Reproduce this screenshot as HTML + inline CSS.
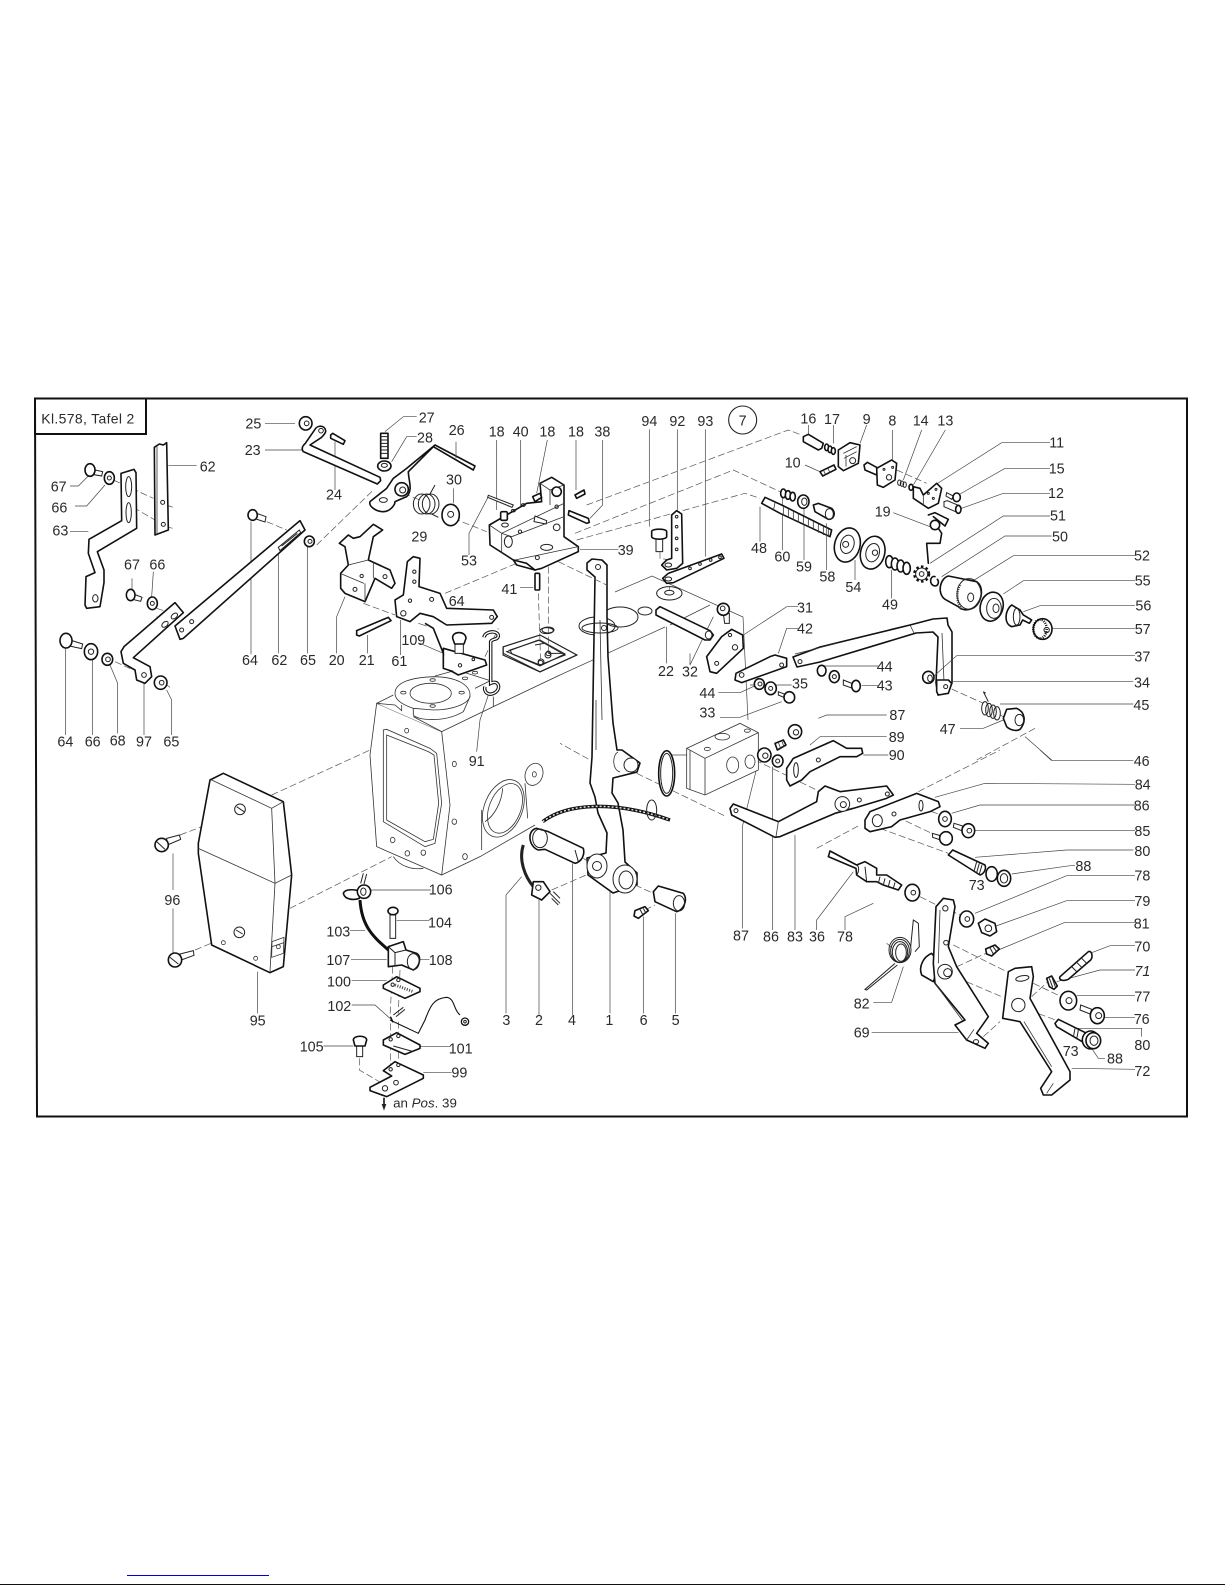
<!DOCTYPE html>
<html><head><meta charset="utf-8"><style>
html,body{margin:0;padding:0;background:#fff;width:1225px;height:1585px;overflow:hidden}
svg{position:absolute;left:0;top:0}
svg *{vector-effect:non-scaling-stroke}
.o{fill:#fff;stroke:#111;stroke-width:1.6;stroke-linejoin:round}
.n{fill:none;stroke:#111;stroke-width:1.6;stroke-linejoin:round;stroke-linecap:round}
.m{fill:#fff;stroke:#222;stroke-width:1}
.b{fill:none;stroke:#222;stroke-width:1}
.t{fill:#fff;stroke:#333;stroke-width:.8}
.u{fill:none;stroke:#333;stroke-width:.8}
.l{fill:none;stroke:#444;stroke-width:.7}
.d{fill:none;stroke:#555;stroke-width:.7;stroke-dasharray:7 3}
.k{fill:#222;stroke:none}
text{font-family:"Liberation Sans",sans-serif;font-size:43px;fill:#2a2a2a;text-anchor:middle}
</style></head><body>
<svg width="1225" height="1585" viewBox="0 0 1225 1585" xmlns="http://www.w3.org/2000/svg">
<rect width="1225" height="1585" fill="#fff"/>
<rect x="127" y="1575" width="142" height="1" fill="#0000e0"/>
<rect x="0" y="1584" width="1225" height="1" fill="#111"/>
<!-- frame -->
<path d="M35,398.500H1187V1116.500H37Z" fill="none" stroke="#111" stroke-width="2"/>
<path d="M35,398.500V434H146V398.500" fill="none" stroke="#111" stroke-width="2"/>

<!-- BODY (lines behind) -->
<g>
<path class="l" d="M615,592L652,576L743,617L748,720"/>
<path class="l" d="M560,675L665,627M670,625L710,605"/>
<path class="d" d="M495,707L590,760"/>
</g>
<g transform="translate(360,640) scale(.33333)">
<path class="t" d="M245,275L400,200L600,105L600,520L525,555L360,650L245,705L270,495Z" style="stroke:none"/>
<path class="u" d="M245,275L400,200L600,105M245,705L360,650L525,555M400,170V200"/>
<path class="t" d="M50,190L30,345L50,620L245,705L270,495L245,275Z"/>
<path class="u" d="M70,270V545L195,620L225,610L245,490L230,340L210,325L80,268Z"/>
<path class="u" d="M80,285V540L195,605L220,598L236,490L222,345L205,335Z"/>
<path class="u" d="M100,650C120,680 160,690 190,685"/>
<path class="t" d="M50,190L100,165L160,205L245,275L50,190Z" style="stroke:none"/>
<path class="u" d="M50,190L100,165M50,190L105,195L125,212V195M160,205V225M245,275L160,230"/>
<path class="t" d="M160,205V225C170,240 250,250 310,215L330,170L160,170Z"/>
<path class="t" d="M105,160C105,125 160,112 220,110C290,110 330,135 330,165C330,190 280,210 220,210L160,205C130,195 105,180 105,160Z"/>
<ellipse class="u" cx="212" cy="160" rx="62" ry="30"/>
<ellipse class="u" cx="218" cy="120" rx="8" ry="4"/><ellipse class="u" cx="305" cy="158" rx="8" ry="4"/><ellipse class="u" cx="218" cy="198" rx="8" ry="4"/><ellipse class="u" cx="130" cy="158" rx="8" ry="4"/><ellipse class="u" cx="315" cy="115" rx="8" ry="4"/><ellipse class="u" cx="345" cy="98" rx="8" ry="4"/>
<path class="u" d="M225,108L290,90L400,125M345,145L395,120"/>
<ellipse class="u" cx="430" cy="505" rx="57" ry="90" transform="rotate(22 430 505)"/><ellipse class="u" cx="435" cy="505" rx="47" ry="78" transform="rotate(22 435 505)"/>
<path class="u" d="M365,510V630M495,430L503,535M428,445C425,490 400,530 375,545"/>
<ellipse class="t" cx="522" cy="403" rx="26" ry="34" transform="rotate(20 522 403)"/><ellipse class="u" cx="523" cy="403" rx="6" ry="8"/>
<ellipse class="u" cx="283" cy="372" rx="6" ry="8"/><ellipse class="u" cx="283" cy="545" rx="7" ry="8"/><ellipse class="u" cx="315" cy="650" rx="7" ry="9"/><ellipse class="u" cx="98" cy="600" rx="7" ry="8"/><ellipse class="u" cx="142" cy="640" rx="7" ry="8"/><ellipse class="u" cx="190" cy="638" rx="7" ry="8"/><ellipse class="u" cx="140" cy="272" rx="6" ry="7"/>
</g>
<g>
<!-- plate on body -->
<path class="b" d="M503,647L540,635L577,655L540,672L503,655ZM510,650L540,640L565,654L540,666L512,654Z"/>
<path class="b" d="M503,655L540,672L577,655"/>
<ellipse class="b" cx="548" cy="630" rx="6" ry="3"/><circle class="b" cx="548" cy="655" r="3"/><circle class="b" cx="541" cy="662" r="3"/>
<ellipse class="b" cx="597" cy="626" rx="18" ry="9"/><ellipse class="b" cx="620" cy="617" rx="18" ry="10"/><ellipse class="b" cx="645" cy="611" rx="7" ry="4"/>
<!-- lever 1 -->
<path class="o" d="M587,563L592,559L602,560L607,565L607,617L608,657L613,723L617,750L622,750L640,763L637,772L613,778L612,793L618,803L623,830L625,862L637,873L637,885L613,893L588,875L587,858L606,853L607,833L598,813L595,797L590,783L592,757L595,577L587,570Z"/>
<path class="u" d="M600,620L602,720M596,700V750M618,752C612,755 612,770 620,772"/>
<circle class="m" cx="631" cy="765" r="7"/>
<ellipse class="m" cx="597" cy="866" rx="10" ry="12"/><circle class="b" cx="597" cy="866" r="4.500"/>
<ellipse class="m" cx="625" cy="879" rx="12" ry="14"/><ellipse class="b" cx="626" cy="880" rx="7" ry="9"/>
<circle class="b" cx="598" cy="567" r="2.500"/><circle class="b" cx="604" cy="628" r="2.500"/>
<ellipse class="b" cx="600" cy="628" rx="18" ry="5"/>
<!-- Long bar 34 -->
<path class="o" d="M793,657L820,647L910,625L933,619L947,618L948,625L952,632L952,683L948,693L938,695L936,683L938,637L933,632L916,633L820,662L797,667Z"/>
<path class="u" d="M910,625L914,633M942,633L944,682M795,654L838,643"/>
</g>

<!-- CROP 1 -->
<g transform="translate(20,390) scale(.33333)">
<path class="l" d="M735,100H825M735,180H845M445,226H530M150,288H175L205,258M165,348H200L255,285M150,425H205M693,395V793M775,485V790M862,470V790M975,620L950,680V790M1043,735V790M1142,690V795M137,770V1035M217,810V1035M270,825L293,880V1030M372,880V1035M440,900L455,930V1035M336,565V600M400,545L395,620M945,155V300M1095,125L1150,80H1190M1115,215L1160,140H1190"/>
<path class="d" d="M280,270L400,325M340,352L405,390M438,345L460,352M440,410L458,415M740,395L800,420M890,465L1060,300M410,655L440,665M410,680L420,690M285,815L340,840M1030,640L1125,675M1150,310L1200,330M440,885L450,892"/>
<path class="o" d="M403,172L418,162L430,165L440,158L445,420L405,435Z"/><path class="u" d="M411,170V432"/>
<circle class="m" cx="428" cy="337" r="6"/><circle class="m" cx="430" cy="403" r="6"/>
<path class="o" d="M303,250L342,238L348,248L350,415L232,485L252,540L252,578L240,650L200,655L195,645L198,560L225,548L205,490L207,448L305,392Z"/>
<ellipse class="m" cx="326" cy="290" rx="9" ry="30"/><ellipse class="m" cx="326" cy="368" rx="8" ry="30"/><ellipse class="m" cx="226" cy="625" rx="8" ry="11"/>
<path class="m" d="M225,240L248,245L245,258L222,254Z"/><ellipse class="o" cx="210" cy="240" rx="15" ry="19"/>
<ellipse class="o" cx="268" cy="264" rx="15" ry="19"/><circle class="b" cx="268" cy="264" r="6"/>
<path class="o" d="M850,185C842,175 850,165 856,160L885,118C892,105 915,105 917,122C918,130 910,135 905,142L870,165L1080,262L1082,272L1072,282L862,190Z"/>
<circle class="b" cx="903" cy="122" r="7"/>
<ellipse class="o" cx="857" cy="100" rx="19" ry="20"/><circle class="b" cx="860" cy="100" r="7"/>
<path class="o" d="M932,135L938,130L975,152L970,163L932,145Z"/>
<rect class="o" x="1082" y="130" width="22" height="75"/>
<path class="b" d="M1082,140H1104M1082,150H1104M1082,160H1104M1082,170H1104M1082,180H1104M1082,190H1104"/>
<ellipse class="o" cx="1093" cy="228" rx="20" ry="15"/><ellipse class="b" cx="1093" cy="226" rx="9" ry="6"/>
<path class="o" d="M1050,335C1045,350 1070,365 1090,365C1110,365 1125,345 1125,335L1160,320C1180,300 1165,270 1165,245L1240,170L1360,240L1365,228L1245,165L1160,235L1120,265L1100,295Z"/>
<circle class="o" cx="1145" cy="298" r="20"/><circle class="b" cx="1148" cy="300" r="9"/><ellipse class="b" cx="1090" cy="330" rx="12" ry="7"/>
<path class="o" d="M958,460L985,435L1000,445L1020,440L1060,403L1088,420L1060,440L1045,510L1110,540L1125,580L1115,595L1065,565L1035,635L975,610L962,595L962,550L985,525L975,470Z"/>
<path class="u" d="M985,525L1045,510M1060,515L1060,565M1035,580V635M965,552L1032,580"/>
<circle class="b" cx="1005" cy="598" r="6"/><circle class="b" cx="1095" cy="560" r="6"/><circle class="b" cx="1025" cy="558" r="5"/>
<path class="o" d="M1125,630L1150,615L1162,515L1180,500L1200,505L1197,590L1260,610L1280,655L1420,660L1432,680L1415,700L1280,705L1240,680L1200,670L1170,695L1130,680Z"/>
<circle class="b" cx="1150" cy="670" r="8"/><circle class="b" cx="1183" cy="545" r="5"/><circle class="b" cx="1183" cy="575" r="5"/><circle class="b" cx="1170" cy="632" r="5"/><circle class="b" cx="1235" cy="628" r="6"/><circle class="b" cx="1415" cy="682" r="6"/>
<path class="o" d="M1010,722L1105,682L1113,692L1018,738L1010,735Z"/>
<path class="o" d="M465,708L840,392L855,420L490,745L480,748Z"/>
<path class="m" d="M775,472L838,420L842,428L780,482Z"/><path class="b" d="M785,468L832,430"/>
<circle class="b" cx="485" cy="720" r="6"/><circle class="b" cx="515" cy="695" r="6"/>
<path class="m" d="M705,368L738,380L735,396L702,385Z"/><ellipse class="o" cx="698" cy="375" rx="14" ry="16"/>
<ellipse class="o" cx="868" cy="454" rx="15" ry="16"/><circle class="b" cx="870" cy="454" r="6"/>
<path class="o" d="M312,770L465,638L490,668L340,803L390,830L395,860L375,880L350,870L345,840L310,820L303,785Z"/>
<ellipse class="m" cx="435" cy="703" rx="11" ry="7" transform="rotate(-40 435 703)"/><ellipse class="m" cx="463" cy="678" rx="11" ry="7" transform="rotate(-40 463 678)"/><circle class="b" cx="372" cy="855" r="7"/>
<path class="m" d="M340,612L366,622L362,634L338,628Z"/><ellipse class="o" cx="332" cy="615" rx="13" ry="17"/>
<ellipse class="o" cx="397" cy="640" rx="15" ry="19"/><circle class="b" cx="397" cy="640" r="6"/>
<path class="m" d="M150,750L188,762L185,776L148,768Z"/><ellipse class="o" cx="138" cy="752" rx="18" ry="22"/>
<ellipse class="o" cx="213" cy="785" rx="20" ry="24"/><circle class="b" cx="213" cy="785" r="8"/>
<ellipse class="o" cx="262" cy="808" rx="16" ry="18"/><circle class="b" cx="264" cy="808" r="7"/>
<ellipse class="o" cx="422" cy="878" rx="19" ry="20"/><circle class="b" cx="425" cy="878" r="7"/>
<text x="204" y="100" style="font-size:42px;letter-spacing:1px">Kl.578, Tafel  2</text>
<text x="700" y="116">25</text><text x="698" y="195">23</text><text x="563" y="244">62</text><text x="116" y="304">67</text><text x="118" y="368">66</text><text x="121" y="436">63</text><text x="942" y="328">24</text><text x="690" y="825">64</text><text x="778" y="825">62</text><text x="864" y="825">65</text><text x="950" y="825">20</text><text x="1040" y="825">21</text><text x="1138" y="828">61</text><text x="336" y="538">67</text><text x="412" y="538">66</text><text x="136" y="1069">64</text><text x="218" y="1069">66</text><text x="293" y="1067">68</text><text x="372" y="1069">97</text><text x="454" y="1069">65</text><text x="1180" y="765">109</text>
</g>

<!-- CROP 2 -->
<g transform="translate(420,390) scale(.33333)">
<path class="l" d="M108,155V205M100,295V340M230,150V360M302,150V415M382,150L350,310M468,150V300M548,150V345L510,385M688,118V410M772,118V360M856,118V500M147,495V430L205,320M480,478H595M300,592H340M1020,350V455M1087,320V480M1152,350V510M740,710V820M810,790V825L880,680M990,885H1110M900,982H960L1085,935M895,908H960L1010,885M1070,885H1115M740,1095H800M970,735L1100,650H1135M1075,790L1100,715H1135"/>
<path class="l" d="M-5,700L40,715M0,760L70,790M170,1085L180,990L205,915"/>
<path class="d" d="M500,345L1105,120L1145,135M465,430L940,240L1080,305M470,450L975,310L1020,325M75,610L290,520M415,515L560,585M100,385L200,425M355,610L362,815M385,530L385,790M720,485V505L750,510M748,590V600M195,800L235,715"/>
<path class="o" d="M208,405L320,340L365,335L360,280L395,262L432,285L432,440L475,470L475,485L365,535L345,540L280,510L210,465Z"/>
<path class="u" d="M208,405L245,430L432,340M245,430V490M245,430L275,440L432,380M285,510L475,470M360,280L390,300L432,285M390,300V345"/>
<path class="o" d="M280,510L290,525L345,540L320,520Z"/>
<circle class="o" cx="410" cy="305" r="14"/><ellipse class="m" cx="265" cy="455" rx="12" ry="17"/><circle class="b" cx="410" cy="412" r="10"/><circle class="b" cx="300" cy="425" r="5"/><circle class="b" cx="410" cy="350" r="5"/><circle class="b" cx="352" cy="503" r="6"/><ellipse class="b" cx="380" cy="472" rx="18" ry="9"/><ellipse class="b" cx="310" cy="345" rx="6" ry="4"/><ellipse class="b" cx="280" cy="362" rx="6" ry="4"/>
<rect class="o" x="242" y="365" width="20" height="26" rx="4"/><ellipse class="b" cx="255" cy="405" rx="10" ry="6"/>
<path class="o" d="M338,320L360,310L365,322L345,335Z"/><path class="o" d="M465,315L492,300L495,312L470,325Z"/>
<path class="o" d="M447,362L505,385L508,397L500,400L445,375Z"/>
<path class="m" d="M345,378L380,392L378,402L342,395Z"/>
<path class="m" d="M205,316L280,345L276,352L203,322Z"/>
<rect class="o" x="345" y="550" width="14" height="50" rx="3"/>
<path class="b" d="M250,770L360,735L470,795L360,845L250,790Z"/>
<path class="b" d="M260,785L355,750L435,795L360,825ZM345,765L372,760M385,790H425"/>
<ellipse class="b" cx="380" cy="722" rx="20" ry="9"/><circle class="b" cx="385" cy="790" r="7"/><circle class="b" cx="362" cy="818" r="7"/>
<path class="o" d="M755,375L770,362L785,372L788,520L770,535L740,540L725,525L740,510L755,505Z"/>
<circle class="b" cx="770" cy="380" r="4"/><circle class="b" cx="770" cy="410" r="4"/><circle class="b" cx="770" cy="445" r="4"/><circle class="b" cx="770" cy="478" r="4"/><ellipse class="b" cx="745" cy="525" rx="10" ry="6"/>
<path class="o" d="M728,565L745,550L905,492L912,505L760,578L740,580Z"/>
<circle class="b" cx="810" cy="535" r="4"/><circle class="b" cx="840" cy="522" r="4"/><circle class="b" cx="872" cy="510" r="4"/><circle class="b" cx="900" cy="502" r="4"/><ellipse class="b" cx="745" cy="567" rx="10" ry="6"/>
<ellipse class="b" cx="748" cy="610" rx="38" ry="20"/><ellipse class="b" cx="748" cy="608" rx="14" ry="7"/>
<path class="m" d="M708,445H728V485H708Z"/><path class="o" d="M695,425C695,415 740,415 740,425V440C740,450 695,450 695,440Z"/>
<path class="o" d="M708,660L720,650L870,722L880,735L870,750L855,750L708,675Z"/><ellipse class="b" cx="866" cy="735" rx="10" ry="12"/>
<path class="m" d="M910,670H928V700H914Z"/><ellipse class="o" cx="910" cy="658" rx="18" ry="18"/><circle class="b" cx="908" cy="655" r="7"/>
<path class="o" d="M860,800L905,740L935,718L968,735L970,775L890,850L870,845Z"/><circle class="b" cx="890" cy="820" r="6"/><circle class="b" cx="945" cy="772" r="8"/><circle class="b" cx="930" cy="735" r="5"/>
<path class="o" d="M948,850L1050,800L1065,795L1100,805L1100,830L965,878L945,870Z"/><circle class="b" cx="965" cy="855" r="7"/><circle class="b" cx="1085" cy="825" r="6"/>
<circle class="b" cx="1140" cy="815" r="6"/>
<ellipse class="o" cx="1018" cy="882" rx="15" ry="16"/><circle class="b" cx="1020" cy="882" r="6"/>
<ellipse class="o" cx="1052" cy="895" rx="17" ry="19"/><circle class="b" cx="1052" cy="895" r="6"/>
<path class="m" d="M1075,905L1100,915L1098,925L1075,915Z"/><ellipse class="o" cx="1108" cy="922" rx="16" ry="17"/>
<path fill="none" stroke="#111" stroke-width="3.500" d="M192,742C195,722 235,720 235,738C232,752 215,745 212,755L212,880C235,868 245,895 225,908C205,920 190,905 195,890"/>
<path fill="none" stroke="#fff" stroke-width="1.400" d="M192,742C195,722 235,720 235,738C232,752 215,745 212,755L212,880C235,868 245,895 225,908C205,920 190,905 195,890"/>
<path class="o" d="M70,775L195,810L200,825L115,855L70,830Z"/><path class="o" d="M15,700L40,715L70,790V835L100,845"/><circle class="b" cx="120" cy="826" r="5"/><circle class="b" cx="160" cy="808" r="4"/>
<path class="m" d="M105,755H130V790H105Z"/><path class="o" d="M98,745C95,722 138,722 138,745L132,762H104Z"/>
<circle class="m" cx="968" cy="90" r="42" style="stroke-width:1.100"/>
<text x="20" y="98">27</text><text x="15" y="158">28</text><text x="110" y="135">26</text><text x="102" y="283">30</text><text x="230" y="140">18</text><text x="302" y="140">40</text><text x="382" y="140">18</text><text x="468" y="140">18</text><text x="547" y="140">38</text><text x="688" y="108">94</text><text x="772" y="108">92</text><text x="856" y="108">93</text><text x="968" y="106">7</text><text x="1165" y="100">16</text><text x="1118" y="232">10</text><text x="147" y="527">53</text><text x="617" y="495">39</text><text x="268" y="612">41</text><text x="1017" y="489">48</text><text x="1087" y="514">60</text><text x="1152" y="544">59</text><text x="110" y="648">64</text><text x="738" y="858">22</text><text x="810" y="860">32</text><text x="1155" y="668">31</text><text x="1155" y="730">42</text><text x="1140" y="896">35</text><text x="862" y="924">44</text><text x="862" y="982">33</text><text x="-2" y="455">29</text>
<!-- spring 29 / washer 30 -->
<g><ellipse class="b" cx="5" cy="342" rx="25" ry="30"/><ellipse class="b" cx="20" cy="342" rx="25" ry="30"/><ellipse class="b" cx="32" cy="342" rx="25" ry="30"/><path class="b" d="M30,312L45,285M35,372L55,382"/></g>
<ellipse class="o" cx="92" cy="375" rx="26" ry="32"/><circle class="b" cx="92" cy="373" r="9"/>
</g>

<!-- upper-right small parts -->
<g transform="translate(760,400) scale(.33333)">
<path class="l" d="M135,195L180,215M145,75V105M220,75V130M320,75L300,130"/>
<path class="o" d="M130,110L145,103L190,130L185,145L175,150L130,125Z"/>
<ellipse class="o" cx="200" cy="142" rx="6" ry="10"/><ellipse class="o" cx="210" cy="148" rx="6" ry="10"/><ellipse class="o" cx="220" cy="153" rx="6" ry="10"/>
<path class="o" d="M235,150L270,128L300,135L295,190L250,212L235,200Z"/><path class="u" d="M250,160L290,140M252,175L290,155M258,200V165"/><circle class="b" cx="278" cy="182" r="9"/>
<path class="o" d="M180,215L222,195L228,208L188,228Z"/><path class="u" d="M190,210L197,224M203,204L210,218"/>
<path class="o" d="M312,195L322,187L355,205L350,225L315,210Z"/>
<path class="o" d="M350,205L395,180L410,190L405,240L370,262L352,255Z"/><circle class="b" cx="387" cy="232" r="8"/><circle class="b" cx="372" cy="208" r="3"/><circle class="b" cx="398" cy="202" r="3"/>
<path class="o" d="M5,310L15,292L65,315L215,390L210,410L60,340Z"/>
<path class="u" d="M45,308L40,332M70,320V345M85,328V352M100,335V360M115,342V368M130,350V375M145,358V382M160,365V390M175,372V398M190,380V405M205,388V410"/>
<ellipse class="o" cx="70" cy="280" rx="8" ry="13"/><ellipse class="o" cx="84" cy="285" rx="8" ry="13"/><ellipse class="o" cx="98" cy="290" rx="8" ry="13"/>
<ellipse class="o" cx="130" cy="305" rx="17" ry="20"/><ellipse class="b" cx="133" cy="305" rx="8" ry="11"/>
<path class="o" d="M160,315L175,310L215,325C230,340 220,360 205,358L165,335Z"/><ellipse class="b" cx="208" cy="342" rx="12" ry="16"/>
</g>

<!-- CROP 3 -->
<g transform="translate(820,390) scale(.33333)">
<path class="l" d="M345,285L545,158H690M415,315L555,235H690M425,355L550,310H690M330,520L550,378H690M365,560L555,438H695M455,575L580,497H945M550,612L610,572H945M610,665L660,647H945M690,716H945M340,860L410,797H945M395,875H940M540,942H940M420,1015H490L550,990M615,1040L695,1110M217,120V210M305,120L250,270M376,120L280,285M220,368L330,410M175,828H10M175,886H125M200,975H20L-5,985M200,1040H0L-30,1065M105,510V570M215,540V625M20,400V540M5,1100H-40"/>
<path class="d" d="M230,240L320,280M395,897L490,940M645,1015L470,1110M540,975L560,985"/>
<g><ellipse class="b" cx="238" cy="278" rx="5" ry="8"/><ellipse class="b" cx="246" cy="281" rx="5" ry="8"/><ellipse class="b" cx="254" cy="284" rx="5" ry="8"/></g><ellipse class="n" cx="273" cy="292" rx="6" ry="9"/>
<path class="o" d="M280,290L300,295L310,315L350,280L365,295L355,340L325,355L280,325Z"/><path class="u" d="M310,315V345"/><circle class="b" cx="325" cy="310" r="3"/><circle class="b" cx="348" cy="298" r="3"/><circle class="b" cx="340" cy="325" r="3"/>
<path class="m" d="M380,308L400,318L395,328L378,318Z"/><ellipse class="o" cx="410" cy="322" rx="11" ry="13"/>
<path class="m" d="M372,335L382,332L420,348L414,368L372,350Z"/><ellipse class="o" cx="415" cy="358" rx="8" ry="12"/>
<path class="n" d="M325,375L345,368L385,388L375,408L340,380"/><circle class="n" cx="345" cy="405" r="14"/><path class="n" d="M355,415L365,430L360,460L320,460L325,520"/>
<ellipse class="o" cx="82" cy="465" rx="38" ry="52" transform="rotate(15 82 465)"/><ellipse class="b" cx="82" cy="463" rx="20" ry="28" transform="rotate(15 82 463)"/><circle class="b" cx="77" cy="463" r="9"/>
<ellipse class="o" cx="158" cy="488" rx="36" ry="50" transform="rotate(15 158 488)"/><ellipse class="b" cx="158" cy="488" rx="20" ry="28" transform="rotate(15 158 488)"/><circle class="b" cx="165" cy="488" r="8"/>
<g><ellipse class="o" cx="208" cy="515" rx="11" ry="18"/><ellipse class="o" cx="225" cy="522" rx="11" ry="18"/><ellipse class="o" cx="242" cy="528" rx="11" ry="18"/><ellipse class="o" cx="260" cy="535" rx="11" ry="18"/></g>
<circle cx="305" cy="552" r="22" fill="none" stroke="#111" stroke-width="2.500" stroke-dasharray="2.500 2.300"/><circle class="m" cx="305" cy="552" r="18"/><circle class="b" cx="305" cy="552" r="7"/>
<path class="n" d="M345,560C330,555 325,585 345,588C355,588 358,575 352,568"/>
<path class="o" d="M385,558L470,575C490,590 490,625 465,650C445,665 425,660 415,650L375,628C350,610 360,565 385,558Z"/>
<ellipse class="b" cx="447" cy="612" rx="36" ry="46"/><ellipse class="b" cx="452" cy="622" rx="9" ry="13"/>
<path fill="none" stroke="#333" stroke-width="2.500" stroke-dasharray="1 1.200" d="M420,585C408,605 410,640 425,658"/>
<ellipse class="o" cx="515" cy="650" rx="34" ry="44" transform="rotate(15 515 650)"/><ellipse class="b" cx="522" cy="655" rx="22" ry="30"/><ellipse class="b" cx="528" cy="655" rx="9" ry="13"/>
<path class="o" d="M575,645C555,660 550,700 575,710L600,705L608,690L628,700L635,690L610,675L600,660Z"/><ellipse class="b" cx="590" cy="680" rx="10" ry="25"/>
<ellipse class="o" cx="668" cy="717" rx="28" ry="31"/><ellipse fill="none" stroke="#111" stroke-width="2.500" stroke-dasharray="1 1.200" cx="660" cy="717" rx="20" ry="28"/><circle class="b" cx="680" cy="720" r="8"/>
<ellipse class="o" cx="325" cy="862" rx="17" ry="18"/><ellipse class="b" cx="330" cy="865" rx="7" ry="10"/>
<path class="o" d="M350,870L385,870L395,880L385,910L355,915L350,905Z"/><circle class="b" cx="377" cy="890" r="6"/>
<g><ellipse class="b" cx="495" cy="955" rx="10" ry="20"/><ellipse class="b" cx="507" cy="960" rx="10" ry="20"/><ellipse class="b" cx="519" cy="965" rx="10" ry="20"/><ellipse class="b" cx="531" cy="970" rx="10" ry="20"/><path class="b" d="M490,905L505,935M490,905L497,910"/></g>
<path class="o" d="M560,958L590,955C615,965 620,995 600,1018C590,1025 570,1020 560,1010L550,985Z"/><ellipse class="b" cx="598" cy="990" rx="13" ry="17"/>
<text x="36" y="102">17</text><text x="140" y="102">9</text><text x="217" y="106">8</text><text x="302" y="106">14</text><text x="376" y="106">13</text><text x="710" y="172">11</text><text x="710" y="250">15</text><text x="708" y="324">12</text><text x="188" y="380">19</text><text x="714" y="392">51</text><text x="720" y="455">50</text><text x="966" y="512">52</text><text x="968" y="587">55</text><text x="970" y="662">56</text><text x="968" y="732">57</text><text x="22" y="575">58</text><text x="100" y="606">54</text><text x="210" y="658">49</text><text x="967" y="815">37</text><text x="966" y="892">34</text><text x="964" y="960">45</text><text x="194" y="844">44</text><text x="194" y="902">43</text><text x="232" y="990">87</text><text x="230" y="1056">89</text><text x="230" y="1110">90</text><text x="383" y="1032">47</text>
<path class="m" d="M70,870L100,882L98,895L70,885Z"/><ellipse class="o" cx="108" cy="888" rx="13" ry="17"/>
<ellipse class="o" cx="43" cy="860" rx="15" ry="18"/><circle class="b" cx="43" cy="860" r="6"/><ellipse class="o" cx="5" cy="842" rx="13" ry="16"/>
</g>

<!-- CROP 4 -->
<g transform="translate(20,750) scale(.33333)">
<path class="l" d="M459,310V420M459,475V610M713,665V790M1050,420H1232M1130,512H1228M990,542H1035M993,628H1100M1198,628H1228M995,692H1100M995,765H1065L1110,805M910,888H1000M1200,890H1292M1210,967H1295"/>
<path class="d" d="M755,135L1050,0M810,475L1115,320M480,255L650,190M525,600L645,550M1118,650L1110,800M1140,660L1135,790M1112,820V950M1135,815V935M1018,925V960L1095,1005"/>
<path class="o" d="M570,90L610,70L790,155L815,375L790,650L750,668L575,585L535,310V280Z"/>
<path class="u" d="M575,90L755,175L790,155M755,175L765,400L750,665M535,295L765,400L815,375"/>
<path class="u" d="M756,575L792,562L790,610L755,622ZM756,590L792,578"/><circle class="u" cx="775" cy="590" r="6"/>
<circle class="m" cx="660" cy="178" r="16"/><path class="b" d="M650,170L672,185"/><circle class="m" cx="658" cy="547" r="16"/><path class="b" d="M648,540L668,552"/>
<circle class="u" cx="610" cy="578" r="6"/><circle class="u" cx="707" cy="625" r="6"/>
<path class="m" d="M440,265L478,255L482,268L442,285Z"/><ellipse class="o" cx="425" cy="285" rx="20" ry="20"/><path class="b" d="M410,275L435,298"/>
<path class="m" d="M480,612L520,602L522,616L484,630Z"/><ellipse class="o" cx="465" cy="630" rx="20" ry="21"/><path class="b" d="M450,622L475,642"/>
<path class="b" d="M1030,370L1022,400M1040,372L1032,402"/>
<path fill="none" stroke="#111" stroke-width="3" d="M1020,450C1025,530 1060,560 1105,600"/>
<path class="o" d="M970,430C975,415 1010,418 1020,425L1018,445C1005,450 975,452 970,430Z"/><ellipse class="o" cx="1032" cy="425" rx="20" ry="20"/><ellipse class="b" cx="1030" cy="425" rx="8" ry="11"/>
<rect class="m" x="1110" y="495" width="17" height="70"/><ellipse class="o" cx="1119" cy="483" rx="15" ry="11"/>
<path class="o" d="M1105,590L1150,575L1158,600L1190,610C1205,620 1200,650 1180,660L1145,645L1105,650Z"/><ellipse class="b" cx="1180" cy="635" rx="18" ry="24"/><path class="b" d="M1105,590L1125,608L1158,600M1125,608V650"/>
<path class="o" d="M1090,705L1130,680L1200,715V725L1155,745L1090,715Z"/><circle class="b" cx="1118" cy="704" r="5"/><circle class="b" cx="1135" cy="690" r="5"/><path fill="none" stroke="#444" stroke-width="3" stroke-dasharray="1 1.500" d="M1125,705L1180,725"/>
<path fill="none" stroke="#111" stroke-width="1.100" d="M1110,810L1195,850L1215,810C1230,770 1240,745 1280,742C1305,745 1300,780 1320,795"/>
<circle class="n" cx="1335" cy="815" r="11" style="stroke-width:1.300"/><circle class="b" cx="1335" cy="815" r="4"/>
<path class="b" d="M1120,795L1150,772M1128,800L1155,778"/><path class="n" d="M1112,802L1118,815"/>
<path class="o" d="M1090,870L1130,848L1200,885V895L1155,913L1090,885Z"/><circle class="b" cx="1112" cy="868" r="5"/><circle class="b" cx="1135" cy="858" r="5"/><path class="b" d="M1120,888L1180,905"/>
<rect class="m" x="1010" y="885" width="18" height="35"/><path class="o" d="M1000,870C1000,855 1040,855 1040,870L1035,888H1005Z"/>
<path class="o" d="M1090,962L1125,935L1210,975V985L1100,1040L1050,1022V1012L1115,978Z"/><circle class="b" cx="1112" cy="958" r="5"/><circle class="b" cx="1135" cy="945" r="5"/><circle class="b" cx="1095" cy="1015" r="8"/><circle class="b" cx="1128" cy="998" r="7"/>
<path class="n" d="M1092,1045V1070"/><path class="k" d="M1085,1062H1099L1092,1082Z"/>
<text x="1262" y="434">106</text><text x="1260" y="532">104</text><text x="955" y="560">103</text><text x="955" y="645">107</text><text x="1262" y="645">108</text><text x="957" y="710">100</text><text x="958" y="783">102</text><text x="875" y="905">105</text><text x="1322" y="910">101</text><text x="1318" y="982">99</text><text x="1215" y="1072" style="font-size:40px">an <tspan font-style="italic">Pos</tspan>. 39</text><text x="1370" y="48">91</text><text x="457" y="465">96</text><text x="713" y="826">95</text>
</g>

<!-- CROP 5 -->
<g transform="translate(480,750) scale(.33333)">
<path class="l" d="M177,450V795M278,340V795M390,425V790M490,500V790M586,490V790M787,230L835,35M787,230V535M878,50V540M945,255V540M1120,365L1010,510V540M1180,460L1095,500V540M125,380L78,435V790"/>
<path class="d" d="M470,70L735,198M825,30L1020,125M215,420L330,370M465,405L520,430M495,480L525,465M310,325L325,335M1010,295L1140,225"/>
<path fill="none" stroke="#111" stroke-width="3.500" d="M188,215C260,160 400,150 570,210"/>
<path fill="none" stroke="#ddd" stroke-width="1.500" stroke-dasharray="2 2" d="M188,215C260,160 400,150 570,210"/>
<ellipse class="b" cx="515" cy="180" rx="15" ry="30"/>
<path class="o" d="M170,235L205,245L310,295C315,315 305,335 285,340L195,298L175,300C145,290 140,240 170,235Z"/><ellipse class="b" cx="180" cy="265" rx="22" ry="28"/><path class="b" d="M285,300L295,335"/>
<path fill="none" stroke="#222" stroke-width="3" d="M130,285C115,330 135,380 160,410"/>
<path class="o" d="M160,395L190,395L210,425L185,450L155,435Z"/><circle class="b" cx="175" cy="413" r="8"/>
<path class="b" d="M210,430L240,460M215,445L235,465M220,425L240,445"/>
<ellipse class="o" cx="560" cy="70" rx="24" ry="68"/><ellipse class="b" cx="560" cy="70" rx="18" ry="60"/>
<path class="o" d="M520,425L535,408L610,430C625,450 610,480 590,485L525,455Z"/><ellipse class="b" cx="597" cy="460" rx="17" ry="23"/>
<path class="o" d="M465,482L495,470L505,482L475,505L462,498Z"/><path class="b" d="M480,478L490,497M490,475L498,490"/>
<text x="79" y="825">3</text><text x="177" y="825">2</text><text x="276" y="825">4</text><text x="388" y="825">1</text><text x="491" y="825">6</text><text x="587" y="825">5</text><text x="783" y="572">87</text><text x="873" y="575">86</text><text x="945" y="575">83</text><text x="1011" y="575">36</text><text x="1095" y="575">78</text>
</g>

<!-- BLOCK / 83 / 90 -->
<g transform="translate(670,700) scale(.33333)">
<path class="t" d="M50,145L210,70L265,98V210L105,285L50,265Z"/>
<path class="u" d="M50,145L105,175L265,98M105,175V285M60,150V270"/>
<ellipse class="u" cx="157" cy="110" rx="22" ry="10"/><ellipse class="u" cx="112" cy="147" rx="9" ry="5"/><ellipse class="u" cx="232" cy="92" rx="9" ry="5"/>
<ellipse class="u" cx="188" cy="195" rx="18" ry="24"/><ellipse class="u" cx="240" cy="185" rx="15" ry="20"/>
<path class="o" d="M180,325L190,312L325,365L440,305L445,275L465,258L510,275L650,258L670,285L650,295L550,325L495,340L330,410L315,412L185,345Z"/>
<path class="u" d="M325,365L318,410"/><circle class="m" cx="517" cy="312" r="22"/><circle class="b" cx="520" cy="314" r="9"/><circle class="b" cx="568" cy="300" r="6"/><circle class="b" cx="198" cy="332" r="6"/><circle class="b" cx="652" cy="282" r="6"/>
<path class="o" d="M350,205L370,175L490,122L530,145L575,145L578,160L560,170L510,170L420,215L395,240L360,258L350,240Z"/>
<ellipse class="m" cx="378" cy="210" rx="7" ry="22"/><circle class="b" cx="445" cy="180" r="6"/>
<ellipse class="o" cx="375" cy="95" rx="20" ry="21"/><circle class="b" cx="378" cy="97" r="8"/>
<path class="o" d="M315,130L340,120L348,135L322,150Z"/><path class="u" d="M325,127L332,145M335,122L342,140"/>
<ellipse class="o" cx="283" cy="165" rx="20" ry="21"/><circle class="b" cx="286" cy="167" r="8"/>
<ellipse class="o" cx="323" cy="183" rx="16" ry="18"/><circle class="b" cx="323" cy="183" r="6"/>
</g>

<!-- CROP 6 -->
<g transform="translate(820,750) scale(.33333)">
<path class="l" d="M345,142L495,100L945,103M395,190L480,165L945,165M465,242H945M465,322L740,300H940M575,372L750,347H765M465,490L740,377H945M528,528L740,452H945M535,600L735,517H945M810,610L870,587H945M710,695L840,660H945M770,737H945M850,802H945M770,835H965V860M815,895L835,925H855M755,955L945,958M155,847H415M160,757H215L250,650M695,32H940M660,0L695,32M130,15H205"/>
<path class="d" d="M295,125L540,0M400,585L560,665M385,672L545,740M600,770L720,815M640,700L720,738M635,740L700,680M410,650L520,600M490,860L540,815M300,440L350,465M390,480L430,500M310,630L340,650M200,580L225,600M180,235L385,310M230,200L335,250M305,175L365,195"/>
<path class="o" d="M135,210L150,185L290,130L355,155L360,170L330,185L240,210L215,230L150,245L135,235Z"/><ellipse class="m" cx="172" cy="212" rx="15" ry="18"/><circle class="b" cx="222" cy="192" r="6"/><ellipse class="m" cx="303" cy="167" rx="6" ry="16"/>
<ellipse class="o" cx="375" cy="207" rx="19" ry="23"/><circle class="b" cx="375" cy="207" r="7"/>
<path class="m" d="M402,220L428,228L425,242L400,232Z"/><ellipse class="o" cx="445" cy="242" rx="19" ry="21"/><circle class="b" cx="448" cy="242" r="7"/>
<path class="m" d="M337,250L365,258L362,270L338,262Z"/><ellipse class="o" cx="378" cy="265" rx="19" ry="20"/>
<path class="o" d="M385,315L398,300L495,345C500,360 490,372 480,375Z"/><path class="b" d="M470,335L462,365M478,340L470,368M486,345L478,372"/>
<ellipse class="n" cx="515" cy="372" rx="17" ry="22"/><ellipse class="n" cx="552" cy="385" rx="20" ry="24"/><ellipse class="b" cx="552" cy="385" rx="11" ry="14"/>
<path class="o" d="M30,303L110,345L135,335L170,355L170,375L200,375L245,405L235,420L190,405L170,395L140,395L110,375L108,355L25,320Z"/><path class="b" d="M110,345C120,350 115,370 110,375M135,350L140,395M180,380L175,400M195,385L190,405M210,390L205,410M225,397L220,415"/>
<ellipse class="o" cx="277" cy="428" rx="22" ry="25"/><circle class="b" cx="280" cy="428" r="7"/>
<ellipse class="o" cx="440" cy="507" rx="21" ry="24"/><circle class="b" cx="442" cy="507" r="7"/>
<path class="o" d="M475,520L495,507L525,520L530,545L510,558L485,548Z"/><circle class="b" cx="505" cy="535" r="10"/>
<path class="o" d="M497,597L525,585L538,597L515,618L500,612Z"/><path class="b" d="M508,590L520,612M518,588L530,605"/>
<path class="o" d="M335,610C310,620 295,650 305,675L340,695L360,640Z"/>
<path class="o" d="M348,470L370,445L400,450L405,470L385,590L410,650L505,800L470,850L505,880L495,895L440,870L405,825L435,810L345,700L340,640Z"/>
<path class="u" d="M360,480L355,640M345,700L430,815M440,870L462,838"/><circle class="b" cx="376" cy="475" r="8"/><circle class="b" cx="378" cy="578" r="7"/><circle class="m" cx="375" cy="665" r="22"/><circle class="b" cx="383" cy="668" r="12"/><ellipse class="b" cx="468" cy="875" rx="8" ry="6"/>
<g><ellipse class="b" cx="240" cy="600" rx="33" ry="38"/><ellipse class="b" cx="240" cy="603" rx="28" ry="35"/><ellipse class="b" cx="240" cy="606" rx="23" ry="31"/><ellipse class="b" cx="243" cy="608" rx="16" ry="26"/><path class="b" d="M272,590L280,510L295,520L298,590L285,605M225,640L135,718L140,720L232,645"/></g>
<path class="o" d="M565,665L585,655L635,650L640,680L630,745L750,965V990L695,1035H670L662,1015L695,965L600,815L548,805Z"/><ellipse class="m" cx="607" cy="685" rx="20" ry="8" transform="rotate(-10 607 685)"/><circle class="m" cx="595" cy="765" r="20"/><path class="u" d="M612,815L695,950M680,1030L700,1000"/>
<path class="o" d="M720,680L805,605C815,600 820,620 812,630L745,688C730,695 715,690 720,680Z"/><path class="b" d="M755,650L770,665M770,637L785,652M785,625L800,640"/>
<path class="o" d="M680,685L695,678L712,708L702,718L688,710Z"/><path class="b" d="M688,685L698,712M696,682L706,710"/>
<ellipse class="o" cx="745" cy="752" rx="25" ry="28"/><circle class="b" cx="747" cy="752" r="9"/>
<path class="m" d="M782,765L815,778L810,792L780,780Z"/><ellipse class="o" cx="832" cy="797" rx="21" ry="24"/><circle class="b" cx="836" cy="797" r="9"/>
<path class="o" d="M705,820L715,808L800,850L795,880L710,830Z"/><path class="b" d="M765,835L760,862M775,840L770,868"/>
<ellipse class="o" cx="812" cy="870" rx="25" ry="27"/><ellipse class="o" cx="820" cy="872" rx="22" ry="24"/><ellipse class="b" cx="822" cy="872" rx="12" ry="14"/>
<text x="965" y="48">46</text><text x="968" y="118">84</text><text x="965" y="182">86</text><text x="967" y="258">85</text><text x="967" y="318">80</text><text x="790" y="363">88</text><text x="967" y="392">78</text><text x="967" y="468">79</text><text x="965" y="536">81</text><text x="967" y="604">70</text><text x="967" y="678" font-style="italic">71</text><text x="967" y="754">77</text><text x="965" y="822">76</text><text x="967" y="900">80</text><text x="885" y="940">88</text><text x="967" y="978">72</text><text x="470" y="420">73</text><text x="752" y="918">73</text><text x="125" y="775">82</text><text x="125" y="862">69</text>
</g>
</svg>
</body></html>
